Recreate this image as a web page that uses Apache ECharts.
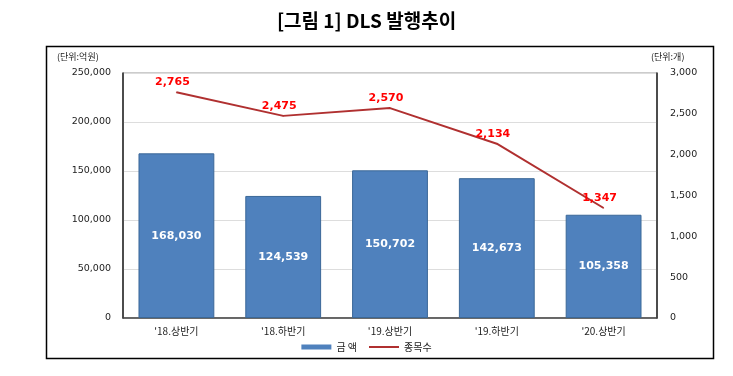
<!DOCTYPE html>
<html>
<head>
<meta charset="utf-8">
<script src="https://cdn.jsdelivr.net/npm/echarts@6/dist/echarts.min.js"></script>
<style>
  html, body { margin: 0; padding: 0; background: #fff; }
  #chart { width: 733px; height: 376px; }
</style>
</head>
<body>
<div id="chart"></div>
<script>
const categories = ["'18.상반기", "'18.하반기", "'19.상반기", "'19.하반기", "'20.상반기"]
const amounts = [168030, 124539, 150702, 142673, 105358]
const counts = [2765, 2475, 2570, 2134, 1347]

const fmt = v => Number(v).toLocaleString("en-US")
const tickFont = { color: "#222", fontSize: 9.5, fontFamily: "DejaVu Sans" }

const chart = echarts.init(document.getElementById("chart"), null, { renderer: "canvas" })

const option = {
  animation: false,
  title: {
    text: "[그림 1] DLS 발행추이",
    left: "center",
    top: 6,
    textStyle: { fontFamily: "Noto Sans CJK KR", fontWeight: "bold", fontSize: 19, color: "#000" },
  },
  graphic: [
    {
      type: "rect",
      shape: { x: 46.5, y: 46.5, width: 667, height: 312 },
      style: { fill: "none", stroke: "#000", lineWidth: 1.5 },
      silent: true,
    },
    {
      type: "text",
      left: 57, top: 52,
      style: { text: "(단위:억원)", fill: "#222", font: "9px 'Noto Sans CJK KR'" },
    },
    {
      type: "text",
      left: 651, top: 52,
      style: { text: "(단위:개)", fill: "#222", font: "9px 'Noto Sans CJK KR'" },
    },
  ],
  legend: {
    bottom: 19,
    left: "center",
    itemGap: 12,
    textStyle: { fontFamily: "Noto Sans CJK KR", fontSize: 10, color: "#222" },
    data: [
      { name: "금 액", icon: "rect", itemStyle: { color: "#4F81BD", borderWidth: 0 } },
      { name: "종목수", icon: "path://M0,0 L30,0 L30,2 L0,2 Z", itemStyle: { color: "#B03030" } },
    ],
    itemWidth: 30,
    itemHeight: 5,
  },
  grid: { left: 123, right: 76, top: 73, bottom: 58, show: true, borderColor: "#999", borderWidth: 1 },
  xAxis: {
    type: "category",
    data: categories,
    axisTick: { show: false },
    axisLine: { lineStyle: { color: "#444", width: 1.5 } },
    axisLabel: { color: "#222", fontSize: 10, fontFamily: "Noto Sans CJK KR", margin: 8 },
  },
  yAxis: [
    {
      type: "value",
      min: 0, max: 250000, interval: 50000,
      axisLine: { show: true, lineStyle: { color: "#222", width: 1.5 } },
      axisTick: { show: false },
      splitLine: { lineStyle: { color: "#ddd" } },
      axisLabel: { ...tickFont, margin: 12, formatter: fmt },
    },
    {
      type: "value",
      min: 0, max: 3000, interval: 500,
      position: "right",
      axisLine: { show: true, lineStyle: { color: "#222", width: 1.5 } },
      axisTick: { show: false },
      splitLine: { show: false },
      axisLabel: { ...tickFont, margin: 13, formatter: fmt },
    },
  ],
  series: [
    {
      name: "금 액",
      type: "bar",
      data: amounts,
      barWidth: "71%",
      itemStyle: { color: "#4F81BD", borderColor: "#3B6898", borderWidth: 1 },
      label: {
        show: true,
        position: "inside",
        color: "#fff",
        fontWeight: "bold",
        fontSize: 11,
        fontFamily: "DejaVu Sans",
        formatter: p => fmt(p.value),
      },
    },
    {
      name: "종목수",
      type: "line",
      yAxisIndex: 1,
      data: counts,
      symbol: "circle",
      symbolSize: 1,
      showSymbol: true,
      lineStyle: { color: "#B03030", width: 2 },
      itemStyle: { color: "#B03030" },
      label: {
        show: true,
        position: "top",
        distance: 4,
        offset: [-4, 0],
        color: "#FF0000",
        fontWeight: "bold",
        fontSize: 11,
        fontFamily: "DejaVu Sans",
        formatter: p => fmt(p.value),
      },
    },
  ],
}

chart.setOption(option)
window.addEventListener("resize", () => chart.resize())
</script>
</body>
</html>
